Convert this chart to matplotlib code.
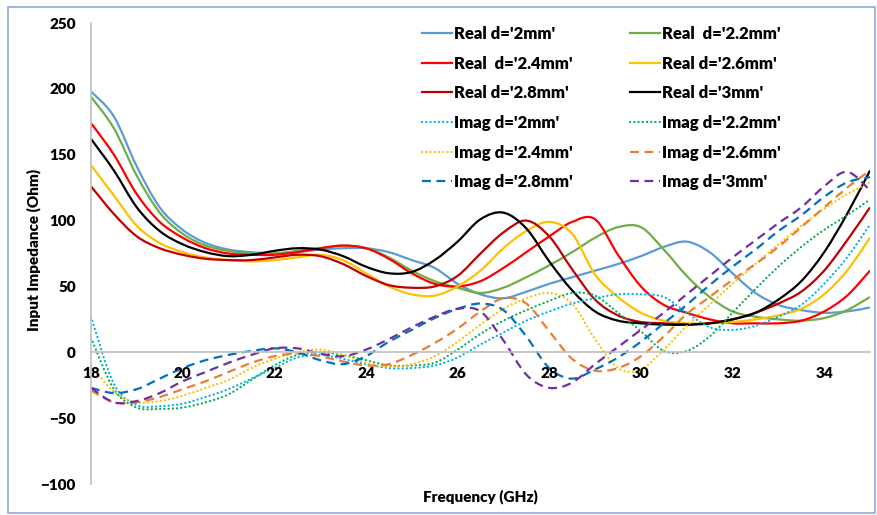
import numpy as np
import matplotlib.pyplot as plt
from matplotlib.path import Path
from matplotlib.patches import PathPatch, Rectangle
from matplotlib.lines import Line2D

plt.rcParams['font.family'] = ['Lato', 'DejaVu Sans']

# frequency points (GHz)
freq = [18, 18.5, 19, 19.5, 20, 20.5, 21, 21.5, 22, 22.5, 23, 23.5, 24, 24.5,
        25, 25.5, 26, 26.5, 27, 27.5, 28, 28.5, 29, 29.5, 30, 30.5, 31, 31.5,
        32, 32.5, 33, 33.5, 34, 34.5, 35]

# real part of input impedance (Ohm)
real_2mm = [198, 179, 141, 110, 93, 83, 78, 76, 75, 76, 78, 79, 79, 76, 70, 64, 52, 44,
            41, 46, 52, 57, 62, 67, 73, 80, 84, 76, 60, 45, 36, 32, 30, 31, 34]
real_2p2mm = [194, 170, 134, 106, 90, 81, 77, 75, 75, 77, 79, 81, 79, 72, 62, 54, 49, 45,
              49, 57, 66, 76, 87, 95, 95, 78, 58, 42, 31, 27, 25, 24, 26, 32, 42]
real_2p4mm = [174, 150, 120, 99, 87, 79, 75, 74, 74, 76, 79, 81, 79, 71, 60, 52, 50, 54,
              64, 76, 88, 99, 101, 74, 50, 36, 30, 25, 22, 22, 22, 24, 31, 43, 62]
real_2p6mm = [142, 119, 96, 83, 76, 72, 70, 69, 70, 72, 74, 70, 60, 50, 44, 43, 50, 62,
              79, 92, 99, 90, 59, 42, 30, 24, 22, 22, 23, 25, 28, 33, 44, 62, 87]
real_2p8mm = [126, 105, 88, 79, 74, 71, 70, 70, 72, 74, 73, 67, 58, 51, 49, 50, 58, 75,
              91, 100, 88, 63, 40, 28, 23, 22, 21, 22, 25, 30, 37, 46, 62, 85, 110]
real_3mm = [162, 138, 110, 92, 82, 76, 73, 74, 77, 79, 78, 73, 65, 60, 61, 70, 84, 101,
            106, 94, 69, 47, 31, 24, 22, 21, 21, 22, 25, 30, 40, 54, 76, 105, 138]

# imaginary part of input impedance (Ohm)
imag_2mm = [27, -24, -40, -41, -39, -34, -28, -20, -12, -4, -2, -5, -9, -12, -12, -10, -4, 6,
            15, 24, 31, 37, 41, 44, 44, 42, 30, 19, 17, 20, 27, 36, 52, 72, 97]
imag_2p2mm = [11, -28, -42, -43, -42, -38, -32, -21, -10, -2, 0, -2, -6, -10, -10, -8, 2, 14,
              24, 32, 39, 45, 43, 30, 16, 1, 1, 12, 30, 48, 65, 80, 93, 104, 116]
imag_2p4mm = [-10, -30, -38, -37, -33, -27, -21, -12, -5, 0, 2, -2, -8, -11, -9, -3, 8, 21,
              33, 41, 45, 37, 10, -12, -13, 2, 20, 36, 52, 67, 82, 96, 109, 120, 129]
imag_2p6mm = [-29, -38, -38, -34, -28, -22, -15, -8, -3, -1, -3, -7, -10, -9, -2, 7, 18, 31,
              41, 37, 16, -5, -14, -12, -3, 12, 29, 42, 55, 67, 80, 95, 110, 125, 138]
imag_2p8mm = [-27, -31, -28, -20, -12, -6, -2, 1, 3, 0, -6, -9, -3, 8, 17, 26, 33, 37,
              32, 12, -12, -20, -13, -4, 8, 22, 36, 51, 65, 78, 92, 104, 118, 129, 133]
imag_3mm = [-27, -38, -37, -31, -22, -15, -8, -2, 3, 3, -1, -3, 2, 10, 19, 27, 33, 31,
            9, -17, -27, -23, -9, 4, 17, 30, 44, 58, 72, 85, 98, 110, 126, 137, 123]

dot = (0, (0.1, 1.8))
dash = (0, (4, 2.5))

series = [
    ("Real d='2mm'", real_2mm, '#5B9BD5', '-'),
    ("Real  d='2.2mm'", real_2p2mm, '#70AD47', '-'),
    ("Real  d='2.4mm'", real_2p4mm, '#FF0000', '-'),
    ("Real d='2.6mm'", real_2p6mm, '#FFC000', '-'),
    ("Real d='2.8mm'", real_2p8mm, '#C00000', '-'),
    ("Real d='3mm'", real_3mm, '#000000', '-'),
    ("Imag d='2mm'", imag_2mm, '#00B0F0', dot),
    ("Imag d='2.2mm'", imag_2p2mm, '#00B050', dot),
    ("Imag d='2.4mm'", imag_2p4mm, '#FFC000', dot),
    ("Imag d='2.6mm'", imag_2p6mm, '#ED7D31', dash),
    ("Imag d='2.8mm'", imag_2p8mm, '#0070C0', dash),
    ("Imag d='3mm'", imag_3mm, '#7030A0', dash),
]


def smooth_path(x, y):
    # Catmull-Rom style bezier through the points (like a "smoothed line")
    pts = np.column_stack([x, y]).astype(float)
    n = len(pts)
    verts = [pts[0]]
    codes = [Path.MOVETO]
    for i in range(n - 1):
        p0 = pts[max(i - 1, 0)]
        p1 = pts[i]
        p2 = pts[i + 1]
        p3 = pts[min(i + 2, n - 1)]
        verts += [p1 + (p2 - p0) / 6, p2 - (p3 - p1) / 6, p2]
        codes += [Path.CURVE4] * 3
    return Path(verts, codes)


fig = plt.figure(figsize=(8.77, 5.15), dpi=100)
ax = fig.add_axes([91 / 877, 1 - 484 / 515, (870 - 91) / 877, (484 - 23) / 515])

lw = 1.6
handles = {}
for label, vals, color, ls in series:
    cap = 'round' if ls is dot else 'butt'
    patch = PathPatch(smooth_path(freq, vals), facecolor='none', edgecolor=color,
                      lw=lw, linestyle=ls, capstyle=cap, joinstyle='round')
    ax.add_patch(patch)
    handles[label] = Line2D([], [], color=color, lw=lw, linestyle=ls,
                            dash_capstyle=cap)

ax.set_xlim(18, 35)
ax.set_ylim(-100, 250)
ax.set_xticks(range(18, 35, 2))
ax.set_yticks(range(-100, 251, 50))

for side in ('top', 'right'):
    ax.spines[side].set_visible(False)
ax.spines['left'].set_color('#BFBFBF')
ax.spines['bottom'].set_color('#BFBFBF')
ax.spines['bottom'].set_position(('data', 0))
ax.spines['left'].set_linewidth(1.2)
ax.spines['bottom'].set_linewidth(1.2)
ax.tick_params(axis='both', length=0, labelsize=11)
ax.tick_params(axis='x', pad=10.5)
ax.tick_params(axis='y', pad=11)
for t in ax.get_xticklabels() + ax.get_yticklabels():
    t.set_fontweight('heavy')

fig.text(34 / 877, 1 - 250 / 515, 'Input Impedance (Ohm)', rotation=90,
         ha='center', va='center', fontsize=11, fontweight='heavy')
fig.text(480 / 877, 1 - 497 / 515, 'Frequency (GHz)',
         ha='center', va='center', fontsize=11, fontweight='heavy')

order = ["Real d='2mm'", "Real  d='2.4mm'", "Real d='2.8mm'",
         "Imag d='2mm'", "Imag d='2.4mm'", "Imag d='2.8mm'",
         "Real  d='2.2mm'", "Real d='2.6mm'", "Real d='3mm'",
         "Imag d='2.2mm'", "Imag d='2.6mm'", "Imag d='3mm'"]
ax.legend([handles[k] for k in order], order, ncol=2, loc='upper left',
          bbox_to_anchor=(422 / 877, 1 - 26 / 515), bbox_transform=fig.transFigure,
          frameon=False, handlelength=1.8, handletextpad=0.15, columnspacing=3.4,
          labelspacing=0.82, borderpad=0, borderaxespad=0,
          prop={'weight': 'heavy', 'size': 12})

fig.patches.append(Rectangle((8 / 877, 2 / 515), (875 - 8) / 877, (508 - 2) / 515,
                             transform=fig.transFigure, fill=False,
                             edgecolor='#8FAADC', lw=1.2))

fig.savefig('out.png', dpi=100, facecolor='white')
